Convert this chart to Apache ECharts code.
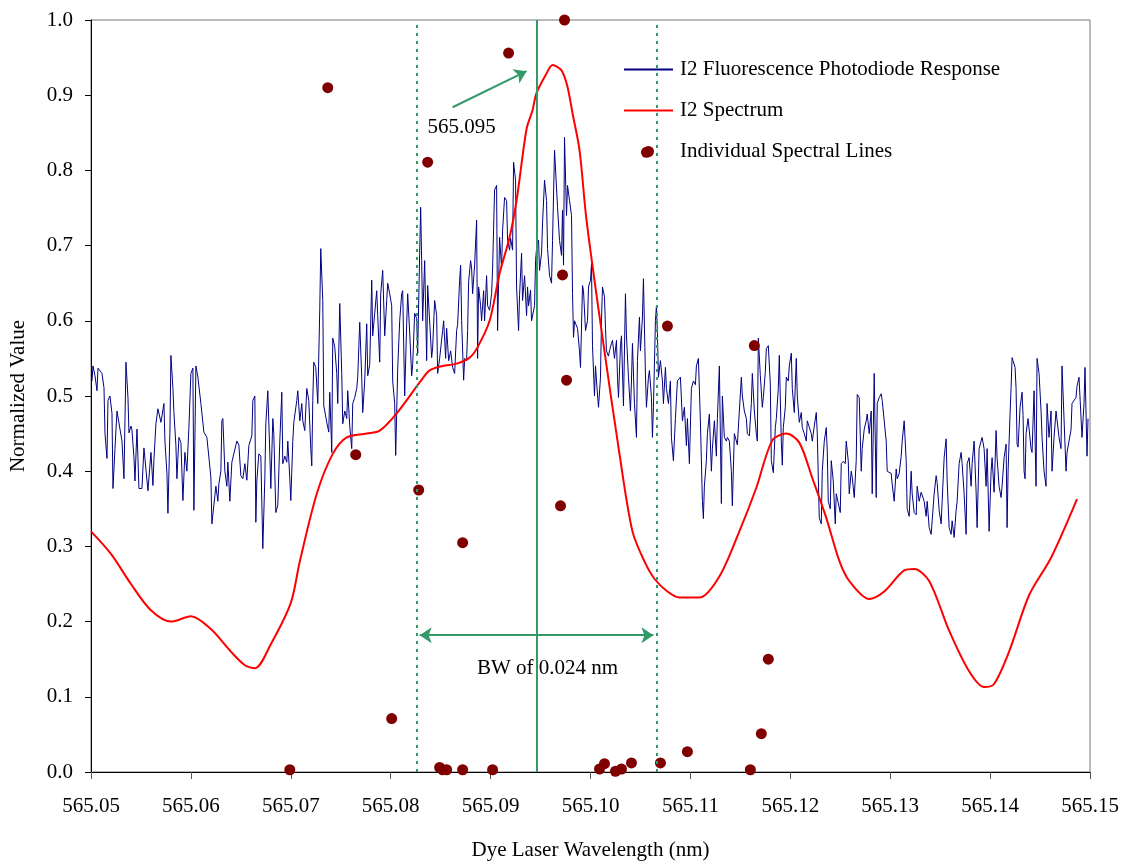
<!DOCTYPE html>
<html>
<head>
<meta charset="utf-8">
<script src="https://cdn.jsdelivr.net/npm/echarts@6.0.0/dist/echarts.min.js"></script>
<style>
  html, body { margin: 0; padding: 0; background: #fff; }
  #chart { width: 1125px; height: 863px; }
</style>
</head>
<body>
<div id="chart"></div>
<script>
// photodiode trace [wavelength nm, normalized value]
const photodiode = [
  [565.0501,0.52],[565.0502,0.54],[565.0504,0.527],[565.0506,0.507],[565.0507,0.537],[565.0511,0.53],[565.0513,0.511],[565.0514,0.45],
  [565.0516,0.417],[565.0517,0.494],[565.0519,0.50],[565.0521,0.477],[565.0522,0.377],[565.0524,0.43],[565.0526,0.48],[565.0527,0.478],
  [565.0531,0.44],[565.0533,0.39],[565.0534,0.467],[565.0535,0.545],[565.0537,0.498],[565.0538,0.451],[565.0540,0.46],[565.0541,0.455],
  [565.0543,0.418],[565.0544,0.387],[565.0546,0.456],[565.0547,0.418],[565.0548,0.377],[565.0551,0.377],[565.0553,0.431],[565.0555,0.431],
  [565.0557,0.374],[565.0559,0.374],[565.0560,0.425],[565.0562,0.381],[565.0563,0.415],[565.0565,0.463],[565.0567,0.483],[565.0570,0.465],
  [565.0573,0.49],[565.0574,0.44],[565.0576,0.397],[565.0577,0.344],[565.0579,0.452],[565.0580,0.554],[565.0582,0.51],[565.0583,0.478],
  [565.0585,0.434],[565.0586,0.39],[565.0588,0.445],[565.0590,0.438],[565.0592,0.361],[565.0594,0.425],[565.0596,0.40],[565.0598,0.458],
  [565.0600,0.53],[565.0602,0.537],[565.0603,0.348],[565.0605,0.54],[565.0607,0.525],[565.0610,0.49],[565.0613,0.452],[565.0616,0.445],
  [565.0620,0.392],[565.0621,0.33],[565.0623,0.33],[565.0625,0.38],[565.0627,0.36],[565.0628,0.383],[565.0630,0.40],[565.0631,0.467],
  [565.0632,0.47],[565.0634,0.40],[565.0636,0.38],[565.0637,0.412],[565.0639,0.36],[565.0641,0.412],[565.0643,0.41],[565.0646,0.44],
  [565.0648,0.435],[565.0650,0.394],[565.0652,0.39],[565.0654,0.41],[565.0656,0.388],[565.0658,0.434],[565.0661,0.447],[565.0662,0.494],
  [565.0664,0.50],[565.0665,0.332],[565.0666,0.387],[565.0668,0.423],[565.0670,0.42],[565.0672,0.297],[565.0674,0.39],[565.0675,0.463],
  [565.0677,0.507],[565.0679,0.423],[565.0680,0.377],[565.0682,0.47],[565.0683,0.45],[565.0685,0.345],[565.0687,0.355],[565.0689,0.44],
  [565.0691,0.505],[565.0692,0.41],[565.0694,0.42],[565.0696,0.412],[565.0697,0.44],[565.0699,0.39],[565.0700,0.361],[565.0702,0.44],
  [565.0703,0.465],[565.0706,0.494],[565.0707,0.507],[565.0709,0.467],[565.0711,0.49],[565.0712,0.467],[565.0714,0.454],[565.0716,0.51],
  [565.0718,0.494],[565.0720,0.43],[565.0721,0.407],[565.0722,0.494],[565.0723,0.545],[565.0725,0.538],[565.0727,0.49],[565.0729,0.616],
  [565.0730,0.696],[565.0732,0.627],[565.0733,0.487],[565.0734,0.48],[565.0736,0.465],[565.0738,0.452],[565.0739,0.505],[565.0741,0.425],
  [565.0742,0.577],[565.0744,0.565],[565.0746,0.53],[565.0747,0.49],[565.0749,0.623],[565.0751,0.53],[565.0752,0.463],[565.0754,0.48],
  [565.0756,0.47],[565.0757,0.507],[565.0759,0.46],[565.0761,0.43],[565.0762,0.49],[565.0764,0.498],[565.0766,0.51],[565.0767,0.525],
  [565.0769,0.598],[565.0771,0.525],[565.0772,0.478],[565.0774,0.52],[565.0776,0.596],[565.0777,0.527],[565.0779,0.542],[565.0781,0.654],
  [565.0782,0.58],[565.0784,0.61],[565.0786,0.64],[565.0787,0.607],[565.0789,0.545],[565.0790,0.636],[565.0792,0.667],[565.0794,0.58],
  [565.0796,0.627],[565.0797,0.65],[565.0799,0.636],[565.0801,0.62],[565.0802,0.52],[565.0804,0.49],[565.0805,0.421],[565.0807,0.536],
  [565.0809,0.60],[565.0811,0.636],[565.0812,0.64],[565.0814,0.50],[565.0816,0.596],[565.0817,0.636],[565.0819,0.585],[565.0821,0.527],
  [565.0822,0.542],[565.0824,0.61],[565.0826,0.603],[565.0827,0.556],[565.0829,0.69],[565.0830,0.751],[565.0831,0.68],[565.0832,0.60],
  [565.0834,0.68],[565.0836,0.547],[565.0837,0.647],[565.0839,0.647],[565.0841,0.551],[565.0842,0.565],[565.0844,0.627],[565.0846,0.607],
  [565.0847,0.53],[565.0849,0.55],[565.0852,0.587],[565.0853,0.60],[565.0855,0.55],[565.0856,0.59],[565.0858,0.547],[565.0860,0.56],
  [565.0862,0.538],[565.0864,0.53],[565.0866,0.587],[565.0867,0.595],[565.0869,0.654],[565.0870,0.674],[565.0871,0.60],[565.0873,0.521],
  [565.0874,0.55],[565.0876,0.547],[565.0877,0.587],[565.0878,0.652],[565.0880,0.68],[565.0881,0.67],[565.0882,0.636],[565.0884,0.674],
  [565.0886,0.734],[565.0887,0.55],[565.0888,0.645],[565.0890,0.62],[565.0891,0.60],[565.0893,0.64],[565.0894,0.60],[565.0896,0.66],
  [565.0897,0.62],[565.0899,0.614],[565.0901,0.636],[565.0902,0.67],[565.0904,0.774],[565.0906,0.78],[565.0907,0.587],[565.0909,0.711],
  [565.0911,0.67],[565.0912,0.72],[565.0914,0.764],[565.0916,0.76],[565.0917,0.707],[565.0919,0.694],[565.0920,0.71],[565.0922,0.694],
  [565.0923,0.811],[565.0925,0.787],[565.0926,0.645],[565.0928,0.587],[565.0929,0.634],[565.0931,0.69],[565.0932,0.627],[565.0934,0.66],
  [565.0936,0.607],[565.0937,0.645],[565.0938,0.62],[565.0940,0.641],[565.0941,0.60],[565.0944,0.62],[565.0945,0.68],[565.0946,0.696],
  [565.0948,0.707],[565.0949,0.667],[565.0951,0.69],[565.0952,0.73],[565.0954,0.787],[565.0956,0.76],[565.0957,0.696],[565.0959,0.66],
  [565.0961,0.65],[565.0962,0.707],[565.0964,0.827],[565.0966,0.825],[565.0967,0.751],[565.0969,0.707],[565.0971,0.687],[565.0972,0.747],
  [565.0973,0.674],[565.0974,0.844],[565.0976,0.74],[565.0977,0.78],[565.0979,0.76],[565.0981,0.74],[565.0982,0.636],[565.0983,0.578],
  [565.0984,0.60],[565.0987,0.59],[565.0989,0.56],[565.0990,0.538],[565.0992,0.647],[565.0993,0.64],[565.0995,0.587],[565.0997,0.60],
  [565.0998,0.645],[565.1000,0.654],[565.1001,0.676],[565.1002,0.567],[565.1004,0.50],[565.1005,0.54],[565.1006,0.52],[565.1008,0.485],
  [565.1010,0.525],[565.1011,0.60],[565.1012,0.645],[565.1014,0.632],[565.1015,0.59],[565.1016,0.56],[565.1018,0.553],[565.1019,0.56],
  [565.1021,0.57],[565.1022,0.574],[565.1024,0.55],[565.1026,0.574],[565.1027,0.525],[565.1028,0.498],[565.1030,0.567],[565.1031,0.58],
  [565.1033,0.487],[565.1035,0.636],[565.1036,0.58],[565.1038,0.525],[565.1040,0.48],[565.1041,0.52],[565.1042,0.57],[565.1044,0.49],
  [565.1046,0.445],[565.1047,0.547],[565.1049,0.605],[565.1050,0.56],[565.1052,0.605],[565.1053,0.656],[565.1055,0.528],[565.1056,0.485],
  [565.1058,0.525],[565.1059,0.534],[565.1061,0.498],[565.1062,0.445],[565.1063,0.485],[565.1065,0.60],[565.1066,0.62],[565.1067,0.583],
  [565.1068,0.525],[565.1070,0.547],[565.1072,0.52],[565.1073,0.49],[565.1075,0.538],[565.1076,0.51],[565.1078,0.49],[565.1080,0.52],
  [565.1081,0.445],[565.1083,0.414],[565.1085,0.47],[565.1087,0.52],[565.1090,0.525],[565.1092,0.467],[565.1094,0.485],[565.1096,0.434],
  [565.1097,0.47],[565.1099,0.41],[565.1101,0.51],[565.1103,0.52],[565.1105,0.515],[565.1106,0.54],[565.1108,0.55],[565.1110,0.467],
  [565.1112,0.361],[565.1113,0.337],[565.1114,0.38],[565.1116,0.414],[565.1117,0.45],[565.1119,0.476],[565.1121,0.40],[565.1122,0.43],
  [565.1124,0.467],[565.1126,0.42],[565.1127,0.47],[565.1129,0.54],[565.1131,0.357],[565.1132,0.50],[565.1134,0.445],[565.1136,0.44],
  [565.1137,0.445],[565.1139,0.44],[565.1141,0.40],[565.1142,0.354],[565.1144,0.45],[565.1146,0.45],[565.1147,0.435],[565.1149,0.48],
  [565.1151,0.525],[565.1152,0.50],[565.1154,0.48],[565.1156,0.47],[565.1157,0.45],[565.1159,0.447],[565.1161,0.49],[565.1162,0.53],
  [565.1164,0.48],[565.1166,0.45],[565.1167,0.44],[565.1168,0.577],[565.1170,0.527],[565.1172,0.485],[565.1173,0.498],[565.1175,0.532],
  [565.1176,0.563],[565.1178,0.567],[565.1180,0.516],[565.1181,0.414],[565.1183,0.398],[565.1185,0.458],[565.1186,0.47],[565.1188,0.51],
  [565.1189,0.554],[565.1191,0.44],[565.1192,0.408],[565.1193,0.458],[565.1195,0.485],[565.1196,0.525],[565.1198,0.52],[565.1199,0.54],
  [565.1201,0.557],[565.1202,0.51],[565.1204,0.478],[565.1206,0.55],[565.1207,0.50],[565.1209,0.465],[565.1211,0.478],[565.1212,0.458],
  [565.1214,0.45],[565.1216,0.44],[565.1217,0.467],[565.1219,0.467],[565.1221,0.45],[565.1222,0.44],[565.1224,0.46],[565.1226,0.478],
  [565.1227,0.45],[565.1229,0.338],[565.1231,0.33],[565.1232,0.40],[565.1234,0.44],[565.1236,0.458],[565.1237,0.427],[565.1238,0.36],
  [565.1240,0.35],[565.1241,0.414],[565.1243,0.387],[565.1245,0.33],[565.1246,0.37],[565.1248,0.358],[565.1250,0.345],[565.1251,0.41],
  [565.1253,0.413],[565.1255,0.41],[565.1256,0.44],[565.1258,0.414],[565.1259,0.37],[565.1261,0.40],[565.1262,0.392],[565.1264,0.365],
  [565.1266,0.414],[565.1267,0.502],[565.1269,0.498],[565.1271,0.40],[565.1272,0.43],[565.1274,0.456],[565.1276,0.467],[565.1277,0.476],
  [565.1279,0.45],[565.1281,0.48],[565.1282,0.37],[565.1284,0.53],[565.1286,0.365],[565.1287,0.49],[565.1289,0.498],[565.1291,0.503],
  [565.1292,0.494],[565.1294,0.467],[565.1296,0.44],[565.1297,0.40],[565.1299,0.40],[565.1301,0.397],[565.1302,0.383],[565.1304,0.36],
  [565.1306,0.403],[565.1307,0.39],[565.1309,0.397],[565.1311,0.42],[565.1312,0.44],[565.1314,0.467],[565.1316,0.414],[565.1317,0.35],
  [565.1319,0.34],[565.1321,0.40],[565.1322,0.37],[565.1324,0.345],[565.1326,0.342],[565.1327,0.38],[565.1329,0.36],[565.1331,0.372],
  [565.1332,0.37],[565.1334,0.36],[565.1336,0.34],[565.1337,0.36],[565.1339,0.325],[565.1341,0.316],[565.1342,0.334],[565.1344,0.37],
  [565.1346,0.394],[565.1347,0.385],[565.1349,0.348],[565.1351,0.33],[565.1352,0.36],[565.1354,0.418],[565.1356,0.443],[565.1357,0.387],
  [565.1359,0.325],[565.1361,0.316],[565.1362,0.334],[565.1364,0.312],[565.1366,0.348],[565.1367,0.36],[565.1369,0.41],[565.1371,0.425],
  [565.1372,0.41],[565.1374,0.37],[565.1376,0.316],[565.1377,0.41],[565.1379,0.418],[565.1381,0.38],[565.1382,0.41],[565.1384,0.44],
  [565.1386,0.372],[565.1387,0.325],[565.1389,0.43],[565.1391,0.44],[565.1392,0.445],[565.1394,0.43],[565.1396,0.38],[565.1397,0.43],
  [565.1399,0.32],[565.1401,0.40],[565.1402,0.418],[565.1404,0.372],[565.1406,0.454],[565.1407,0.418],[565.1409,0.38],[565.1411,0.365],
  [565.1412,0.38],[565.1414,0.418],[565.1416,0.436],[565.1417,0.325],[565.1418,0.40],[565.1420,0.477],[565.1421,0.511],[565.1422,0.551],
  [565.1423,0.547],[565.1425,0.538],[565.1426,0.51],[565.1427,0.436],[565.1428,0.432],[565.1430,0.485],[565.1432,0.505],[565.1433,0.474],
  [565.1434,0.40],[565.1435,0.39],[565.1436,0.45],[565.1438,0.47],[565.1439,0.47],[565.1441,0.43],[565.1442,0.425],[565.1444,0.507],
  [565.1446,0.38],[565.1447,0.55],[565.1449,0.53],[565.1451,0.48],[565.1452,0.445],[565.1454,0.40],[565.1456,0.38],[565.1457,0.49],
  [565.1459,0.445],[565.1461,0.48],[565.1462,0.40],[565.1464,0.445],[565.1466,0.48],[565.1467,0.48],[565.1469,0.445],[565.1471,0.43],
  [565.1472,0.54],[565.1474,0.47],[565.1476,0.40],[565.1477,0.425],[565.1479,0.425],[565.1481,0.455],[565.1482,0.49],[565.1484,0.49],
  [565.1486,0.498],[565.1487,0.513],[565.1489,0.525],[565.1491,0.527],[565.1492,0.445],[565.1494,0.49],[565.1495,0.538],[565.1497,0.42],
  [565.1498,0.47]
];

// I2 spectrum [wavelength nm, normalized value]
const spectrum = [
  [565.0500,0.32],[565.0520,0.29],[565.0540,0.25],[565.0560,0.215],[565.0580,0.20],[565.0600,0.207],[565.0620,0.19],
  [565.0640,0.16],[565.0654,0.142],[565.0664,0.138],[565.0680,0.17],[565.0700,0.225],[565.0709,0.28],[565.0726,0.37],
  [565.0742,0.423],[565.0756,0.445],[565.0776,0.45],[565.0789,0.454],[565.0806,0.477],[565.0829,0.518],[565.0839,0.534],
  [565.0852,0.54],[565.0866,0.543],[565.0879,0.551],[565.0887,0.565],[565.0899,0.60],[565.0909,0.663],[565.0919,0.711],
  [565.0926,0.76],[565.0936,0.855],[565.0942,0.88],[565.0946,0.903],[565.0956,0.929],[565.0962,0.94],[565.0971,0.933],
  [565.0977,0.911],[565.0982,0.876],[565.0989,0.827],[565.0996,0.734],[565.1012,0.578],[565.1029,0.423],[565.1042,0.32],
  [565.1054,0.28],[565.1064,0.257],[565.1077,0.24],[565.1089,0.232],[565.1109,0.232],[565.1129,0.26],[565.1149,0.32],
  [565.1166,0.378],[565.1182,0.441],[565.1196,0.45],[565.1209,0.438],[565.1222,0.391],[565.1236,0.338],[565.1249,0.281],
  [565.1259,0.254],[565.1279,0.23],[565.1294,0.24],[565.1314,0.268],[565.1324,0.27],[565.1339,0.254],[565.1359,0.188],
  [565.1379,0.134],[565.1394,0.113],[565.1404,0.117],[565.1419,0.16],[565.1439,0.235],[565.1461,0.285],[565.1487,0.363]
];

// individual spectral lines [wavelength nm, relative intensity]
const spectralLines = [
  [565.0699,0.003],[565.0737,0.91],[565.0765,0.422],[565.0801,0.071],[565.0828,0.375],[565.0837,0.811],
  [565.0849,0.006],[565.0852,0.003],[565.0856,0.003],[565.0872,0.305],[565.0872,0.003],[565.0902,0.003],
  [565.0918,0.956],[565.0970,0.354],[565.0972,0.661],[565.0974,1.0],[565.0976,0.521],[565.1009,0.004],
  [565.1014,0.011],[565.1025,0.001],[565.1031,0.004],[565.1041,0.012],[565.1056,0.824],[565.1070,0.012],
  [565.1077,0.593],[565.1097,0.027],[565.1160,0.003],[565.1164,0.567],[565.1171,0.051],[565.1178,0.15]
];

const bandEdges = [565.0826, 565.1066];
const peakLine = 565.0946;

const FONT = 'Liberation Serif';
const GREEN = '#339966';
const chart = echarts.init(document.getElementById('chart'));

// full-height vertical guide from y=0 to y=1
function vLine(x, type) {
  return [
    { coord: [x, 0], lineStyle: { color: GREEN, width: 2, type: type } },
    { coord: [x, 1] }
  ];
}

const option = {
  animation: false,
  textStyle: { fontFamily: FONT, color: '#000' },
  grid: {
    left: 91, right: 35, top: 20, bottom: 91,
    outerBoundsMode: 'none',
    show: true, borderColor: '#777', borderWidth: 1
  },
  legend: {
    orient: 'vertical',
    left: 618,
    top: 54,
    itemWidth: 49,
    itemHeight: 11,
    itemGap: 20,
    textStyle: { fontFamily: FONT, fontSize: 21, color: '#000', padding: [0, 0, 0, 2] },
    data: [
      { name: 'I2 Fluorescence Photodiode Response', itemStyle: { opacity: 0 } },
      { name: 'I2 Spectrum', itemStyle: { opacity: 0 } },
      { name: 'Individual Spectral Lines' }
    ]
  },
  xAxis: {
    type: 'value',
    min: 565.05,
    max: 565.15,
    interval: 0.01,
    name: 'Dye Laser Wavelength (nm)',
    nameLocation: 'middle',
    nameGap: 68,
    nameTextStyle: { fontFamily: FONT, fontSize: 21, color: '#000' },
    axisLine: { lineStyle: { color: '#000', width: 1 } },
    axisTick: { inside: false, length: 7, lineStyle: { color: '#555' } },
    axisLabel: {
      fontFamily: FONT, fontSize: 21, color: '#000', margin: 24,
      formatter: v => v.toFixed(2)
    },
    splitLine: { show: false }
  },
  yAxis: {
    type: 'value',
    min: 0,
    max: 1,
    interval: 0.1,
    name: 'Normalized Value',
    nameLocation: 'middle',
    nameGap: 62,
    nameTextStyle: { fontFamily: FONT, fontSize: 21, color: '#000' },
    axisLine: { show: true, lineStyle: { color: '#000', width: 1 } },
    axisTick: { show: true, inside: false, length: 6, lineStyle: { color: '#000' } },
    axisLabel: {
      fontFamily: FONT, fontSize: 21, color: '#000', margin: 18,
      formatter: v => v.toFixed(1)
    },
    splitLine: { show: false }
  },
  series: [
    {
      name: 'guides',
      type: 'line',
      data: [],
      z: 1,
      markLine: {
        silent: true,
        symbol: 'none',
        label: { show: false },
        data: [
          vLine(bandEdges[0], [3, 5]),
          vLine(bandEdges[1], [3, 5]),
          vLine(peakLine, 'solid')
        ]
      }
    },
    {
      name: 'I2 Fluorescence Photodiode Response',
      type: 'line',
      data: photodiode,
      symbol: 'none',
      z: 2,
      lineStyle: { color: '#000080', width: 1 },
      itemStyle: { color: '#000080' }
    },
    {
      name: 'I2 Spectrum',
      type: 'line',
      data: spectrum,
      symbol: 'none',
      smooth: 0.3,
      z: 3,
      lineStyle: { color: '#ff0000', width: 2 },
      itemStyle: { color: '#ff0000' }
    },
    {
      name: 'Individual Spectral Lines',
      type: 'scatter',
      data: spectralLines,
      symbolSize: 11,
      clip: false,
      z: 4,
      itemStyle: { color: '#800000', opacity: 1 }
    },
    {
      name: 'annotations',
      type: 'line',
      data: [],
      z: 5,
      markLine: {
        silent: true,
        label: { show: false },
        symbolSize: 12,
        lineStyle: { color: GREEN, width: 2, type: 'solid' },
        data: [
          [
            { coord: [565.0829, 0.182], symbol: 'arrow' },
            { coord: [565.1063, 0.182], symbol: 'arrow' }
          ],
          [
            { coord: [565.0862, 0.884], symbol: 'none' },
            { coord: [565.0936, 0.932], symbol: 'arrow' }
          ]
        ]
      },
      markPoint: {
        silent: true,
        symbol: 'rect',
        symbolSize: 1,
        itemStyle: { color: 'rgba(0,0,0,0)' },
        label: {
          show: true, position: 'inside',
          fontFamily: FONT, fontSize: 21, color: '#000'
        },
        data: [
          { coord: [565.0871, 0.857], value: '565.095', label: { formatter: '565.095' } },
          { coord: [565.0957, 0.138], value: 'BW', label: { formatter: 'BW of 0.024 nm' } }
        ]
      }
    }
  ]
};

chart.setOption(option);
</script>
</body>
</html>
